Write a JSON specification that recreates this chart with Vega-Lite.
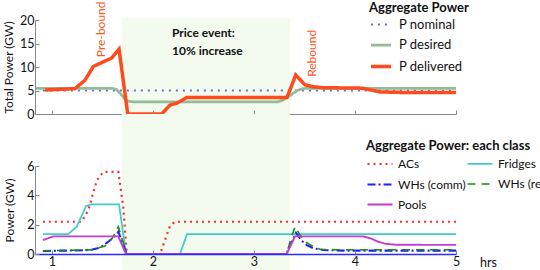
{
  "$schema": "https://vega.github.io/schema/vega-lite/v6.json",
  "autosize": {"type": "pad"},
  "padding": {"left": 2, "top": 1, "right": 0, "bottom": 0},
  "background": "white",
  "bounds": "flush",
  "spacing": 52,
  "config": {
    "font": "Lato",
    "view": {"stroke": null},
    "axis": {"grid": false, "domainColor": "#888888", "tickColor": "#888888", "tickSize": -4, "labelFontSize": 12.5, "labelColor": "#111111", "titleFontSize": 12, "titleFontWeight": "normal", "titleColor": "#111111", "labelPadding": 5, "labelFlush": false, "format": "d"},
    "legend": {"orient": "none", "symbolType": "stroke", "symbolSize": 625, "labelFontSize": 13, "labelColor": "#111111", "titleFontSize": 13, "titleFontWeight": "bold", "titleColor": "#111111", "labelOffset": 4, "padding": 0, "titlePadding": 1}
  },
  "resolve": {
    "scale": {"x": "shared", "y": "independent", "color": "independent", "strokeDash": "independent", "strokeWidth": "independent"},
    "legend": {"color": "independent", "strokeDash": "independent", "strokeWidth": "independent"}
  },
  "datasets": {
    "top": [
      {"h": 0.91, "v": 5, "series": "P nominal"},
      {"h": 5, "v": 5, "series": "P nominal"},
      {"h": 0.832, "v": 5.45, "series": "P desired"},
      {"h": 1.6, "v": 5.45, "series": "P desired"},
      {"h": 1.64, "v": 5.2, "series": "P desired"},
      {"h": 1.68, "v": 4.3, "series": "P desired"},
      {"h": 1.72, "v": 3.2, "series": "P desired"},
      {"h": 1.76, "v": 2.7, "series": "P desired"},
      {"h": 1.8, "v": 2.6, "series": "P desired"},
      {"h": 3.24, "v": 2.6, "series": "P desired"},
      {"h": 3.29, "v": 3.0, "series": "P desired"},
      {"h": 3.36, "v": 4.0, "series": "P desired"},
      {"h": 3.43, "v": 5.0, "series": "P desired"},
      {"h": 3.48, "v": 5.4, "series": "P desired"},
      {"h": 3.52, "v": 5.45, "series": "P desired"},
      {"h": 5, "v": 5.45, "series": "P desired"},
      {"h": 0.931, "v": 5.1, "series": "P delivered"},
      {"h": 1.228, "v": 5.4, "series": "P delivered"},
      {"h": 1.327, "v": 7.2, "series": "P delivered"},
      {"h": 1.409, "v": 10.1, "series": "P delivered"},
      {"h": 1.508, "v": 11.1, "series": "P delivered"},
      {"h": 1.591, "v": 11.9, "series": "P delivered"},
      {"h": 1.664, "v": 13.8, "series": "P delivered"},
      {"h": 1.75, "v": 0, "series": "P delivered"},
      {"h": 2.086, "v": 0, "series": "P delivered"},
      {"h": 2.169, "v": 1.9, "series": "P delivered"},
      {"h": 2.235, "v": 2.3, "series": "P delivered"},
      {"h": 2.334, "v": 3.5, "series": "P delivered"},
      {"h": 3.327, "v": 3.5, "series": "P delivered"},
      {"h": 3.413, "v": 8.3, "series": "P delivered"},
      {"h": 3.505, "v": 6.2, "series": "P delivered"},
      {"h": 3.584, "v": 5.8, "series": "P delivered"},
      {"h": 3.683, "v": 5.6, "series": "P delivered"},
      {"h": 4.07, "v": 5.5, "series": "P delivered"},
      {"h": 4.248, "v": 4.7, "series": "P delivered"},
      {"h": 4.446, "v": 4.6, "series": "P delivered"},
      {"h": 5, "v": 4.6, "series": "P delivered"}
    ],
    "bot": [
      {"h": 0.91, "v": 2.2, "cls": "ACs"},
      {"h": 1.294, "v": 2.2, "cls": "ACs"},
      {"h": 1.36, "v": 3.0, "cls": "ACs"},
      {"h": 1.443, "v": 5.0, "cls": "ACs"},
      {"h": 1.508, "v": 5.6, "cls": "ACs"},
      {"h": 1.657, "v": 5.6, "cls": "ACs"},
      {"h": 1.706, "v": 3.2, "cls": "ACs"},
      {"h": 1.74, "v": 0, "cls": "ACs"},
      {"h": 2.07, "v": 0, "cls": "ACs"},
      {"h": 2.119, "v": 0.95, "cls": "ACs"},
      {"h": 2.168, "v": 1.9, "cls": "ACs"},
      {"h": 2.218, "v": 2.2, "cls": "ACs"},
      {"h": 5, "v": 2.2, "cls": "ACs"},
      {"h": 0.91, "v": 1.36, "cls": "Fridges"},
      {"h": 1.162, "v": 1.36, "cls": "Fridges"},
      {"h": 1.245, "v": 1.86, "cls": "Fridges"},
      {"h": 1.337, "v": 3.27, "cls": "Fridges"},
      {"h": 1.393, "v": 3.39, "cls": "Fridges"},
      {"h": 1.664, "v": 3.39, "cls": "Fridges"},
      {"h": 1.733, "v": 0, "cls": "Fridges"},
      {"h": 2.268, "v": 0, "cls": "Fridges"},
      {"h": 2.337, "v": 1.36, "cls": "Fridges"},
      {"h": 5, "v": 1.36, "cls": "Fridges"},
      {"h": 0.91, "v": 0.2, "cls": "WHs (comm)"},
      {"h": 1.31, "v": 0.25, "cls": "WHs (comm)"},
      {"h": 1.4, "v": 0.3, "cls": "WHs (comm)"},
      {"h": 1.48, "v": 0.45, "cls": "WHs (comm)"},
      {"h": 1.57, "v": 0.9, "cls": "WHs (comm)"},
      {"h": 1.64, "v": 1.3, "cls": "WHs (comm)"},
      {"h": 1.657, "v": 1.52, "cls": "WHs (comm)"},
      {"h": 1.74, "v": 0, "cls": "WHs (comm)"},
      {"h": 3.32, "v": 0, "cls": "WHs (comm)"},
      {"h": 3.416, "v": 1.45, "cls": "WHs (comm)"},
      {"h": 3.472, "v": 0.9, "cls": "WHs (comm)"},
      {"h": 3.522, "v": 0.61, "cls": "WHs (comm)"},
      {"h": 3.587, "v": 0.39, "cls": "WHs (comm)"},
      {"h": 3.687, "v": 0.27, "cls": "WHs (comm)"},
      {"h": 3.9, "v": 0.23, "cls": "WHs (comm)"},
      {"h": 5, "v": 0.23, "cls": "WHs (comm)"},
      {"h": 0.91, "v": 0.22, "cls": "WHs (res)"},
      {"h": 1.31, "v": 0.27, "cls": "WHs (res)"},
      {"h": 1.4, "v": 0.3, "cls": "WHs (res)"},
      {"h": 1.525, "v": 0.55, "cls": "WHs (res)"},
      {"h": 1.6, "v": 1.1, "cls": "WHs (res)"},
      {"h": 1.641, "v": 1.68, "cls": "WHs (res)"},
      {"h": 1.657, "v": 1.86, "cls": "WHs (res)"},
      {"h": 1.74, "v": 0, "cls": "WHs (res)"},
      {"h": 3.32, "v": 0, "cls": "WHs (res)"},
      {"h": 3.406, "v": 1.86, "cls": "WHs (res)"},
      {"h": 3.456, "v": 1.3, "cls": "WHs (res)"},
      {"h": 3.505, "v": 0.84, "cls": "WHs (res)"},
      {"h": 3.587, "v": 0.5, "cls": "WHs (res)"},
      {"h": 3.654, "v": 0.32, "cls": "WHs (res)"},
      {"h": 3.82, "v": 0.29, "cls": "WHs (res)"},
      {"h": 5, "v": 0.29, "cls": "WHs (res)"},
      {"h": 0.91, "v": 0.95, "cls": "Pools"},
      {"h": 1.013, "v": 1.2, "cls": "Pools"},
      {"h": 1.657, "v": 1.2, "cls": "Pools"},
      {"h": 1.733, "v": 0, "cls": "Pools"},
      {"h": 3.324, "v": 0, "cls": "Pools"},
      {"h": 3.406, "v": 1.2, "cls": "Pools"},
      {"h": 4.08, "v": 1.2, "cls": "Pools"},
      {"h": 4.15, "v": 1.08, "cls": "Pools"},
      {"h": 4.22, "v": 0.86, "cls": "Pools"},
      {"h": 4.3, "v": 0.7, "cls": "Pools"},
      {"h": 4.4, "v": 0.63, "cls": "Pools"},
      {"h": 5, "v": 0.62, "cls": "Pools"}
    ]
  },
  "vconcat": [
    {
      "width": 421,
      "height": 94,
      "encoding": {
        "x": {"field": "h", "type": "quantitative", "scale": {"domain": [0.832, 5], "nice": false, "zero": false},
              "axis": {"values": [1, 2, 3, 4, 5], "labels": false, "title": null, "zindex": 1}},
        "y": {"field": "v", "type": "quantitative", "scale": {"domain": [0, 20], "nice": false},
              "axis": {"values": [0, 5, 10, 15, 20], "title": "Total Power (GW)", "titlePadding": 4, "labelOverlap": false, "zindex": 1}}
      },
      "layer": [
        {
          "data": {"values": [{"h": 1.693, "h2": 3.357, "v": 20.4, "v2": 0}]},
          "mark": {"type": "rect", "color": "#f2fbee"},
          "encoding": {"x2": {"field": "h2"}, "y2": {"field": "v2"}}
        },
        {
          "data": {"name": "top"},
          "mark": {"type": "line"},
          "encoding": {
            "color": {"field": "series", "type": "nominal",
                      "scale": {"domain": ["P nominal", "P desired", "P delivered"], "range": ["#6a6ad8", "#93bb98", "#ff4a1c"]},
                      "legend": {"title": "Aggregate Power", "legendX": 334, "legendY": -18, "symbolSize": 400, "labelOffset": 6, "titlePadding": -1.5}},
            "strokeDash": {"field": "series", "type": "nominal",
                      "scale": {"domain": ["P nominal", "P desired", "P delivered"], "range": [[2, 5], [1, 0], [1, 0]]},
                      "legend": {"title": "Aggregate Power", "legendX": 334, "legendY": -18, "symbolSize": 400, "labelOffset": 6, "titlePadding": -1.5}},
            "strokeWidth": {"field": "series", "type": "nominal",
                      "scale": {"domain": ["P nominal", "P desired", "P delivered"], "range": [2, 3.5, 2.2]},
                      "legend": {"title": "Aggregate Power", "legendX": 334, "legendY": -18, "symbolSize": 400, "labelOffset": 6, "titlePadding": -1.5}}
          }
        },
        {
          "data": {"values": [{"h": 2.188, "v": 17.2, "t": "Price event:"}, {"h": 2.188, "v": 13.4, "t": "10% increase"}]},
          "mark": {"type": "text", "align": "left", "baseline": "middle", "fontWeight": "bold", "fontSize": 12, "color": "#111111"},
          "encoding": {"text": {"field": "t"}}
        },
        {
          "data": {"values": [{"h": 1.485, "v": 12.1, "t": "Pre-bound"}, {"h": 3.575, "v": 7.9, "t": "Rebound"}]},
          "mark": {"type": "text", "align": "left", "baseline": "middle", "angle": 270, "fontSize": 12, "color": "#ff5522"},
          "encoding": {"text": {"field": "t"}}
        }
      ]
    },
    {
      "width": 421,
      "height": 88,
      "encoding": {
        "x": {"field": "h", "type": "quantitative", "scale": {"domain": [0.832, 5], "nice": false, "zero": false},
              "axis": {"values": [1, 2, 3, 4, 5], "title": "hrs", "titleX": 453, "titleY": 8, "titleAlign": "center", "titleBaseline": "middle", "titleFontSize": 12.5, "domainColor": "#2a2aff", "domainWidth": 1.5, "labelPadding": 5, "labelOverlap": false, "zindex": 1}},
        "y": {"field": "v", "type": "quantitative", "scale": {"domain": [0, 6], "nice": false},
              "axis": {"values": [0, 2, 4, 6], "title": "Power (GW)", "titlePadding": 10, "labelOverlap": false, "zindex": 1}}
      },
      "layer": [
        {
          "data": {"values": [{"h": 1.693, "h2": 3.357, "v": 9.55, "v2": -1.1}]},
          "mark": {"type": "rect", "color": "#f2fbee"},
          "encoding": {"x2": {"field": "h2"}, "y2": {"field": "v2"}}
        },
        {
          "data": {"name": "bot"},
          "mark": {"type": "line"},
          "encoding": {
            "color": {"field": "cls", "type": "nominal",
                      "scale": {"domain": ["ACs", "WHs (comm)", "Pools", "Fridges", "WHs (res)"], "range": ["#ff2a2a", "#1f1fff", "#c83cd0", "#3ecccc", "#1a8a1a"]},
                      "legend": {"title": "Aggregate Power: each class", "legendX": 331, "legendY": -26, "columns": 2, "columnPadding": -8, "rowPadding": 0.5, "titlePadding": -3, "labelFontSize": 12}},
            "strokeDash": {"field": "cls", "type": "nominal",
                      "scale": {"domain": ["ACs", "WHs (comm)", "Pools", "Fridges", "WHs (res)"], "range": [[2, 4], [8, 3, 2, 3], [1, 0], [1, 0], [8, 6]]},
                      "legend": {"title": "Aggregate Power: each class", "legendX": 331, "legendY": -26, "columns": 2, "columnPadding": -8, "rowPadding": 0.5, "titlePadding": -3, "labelFontSize": 12}},
            "strokeWidth": {"field": "cls", "type": "nominal",
                      "scale": {"domain": ["ACs", "WHs (comm)", "Pools", "Fridges", "WHs (res)"], "range": [2.2, 1.6, 1.8, 1.8, 1.6]},
                      "legend": {"title": "Aggregate Power: each class", "legendX": 331, "legendY": -26, "columns": 2, "columnPadding": -8, "rowPadding": 0.5, "titlePadding": -3, "labelFontSize": 12}}
          }
        }
      ]
    }
  ]
}
